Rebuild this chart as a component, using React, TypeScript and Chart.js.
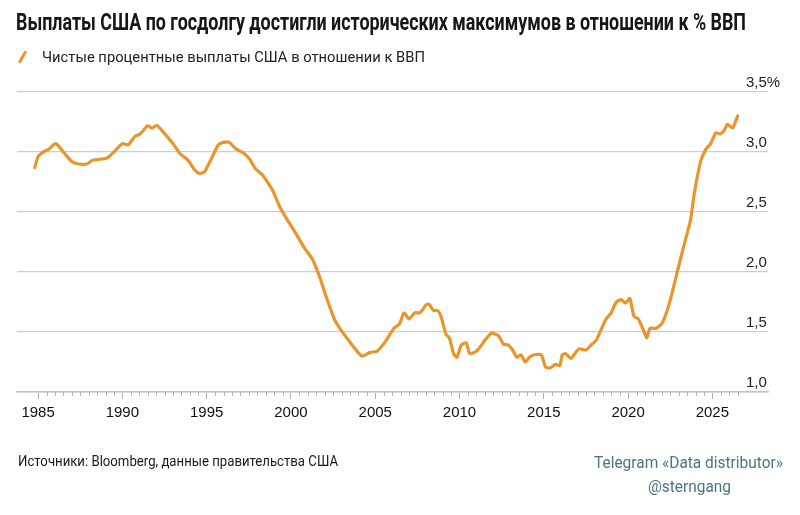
import React, { useEffect, useLayoutEffect, useRef } from "react";
import { Chart, registerables } from "chart.js";

Chart.register(...registerables);

// ---------- texts ----------
const TITLE = "Выплаты США по госдолгу достигли исторических максимумов в отношении к % ВВП";
const SERIES_LABEL = "Чистые процентные выплаты США в отношении к ВВП";
const SOURCE = "Источники: Bloomberg, данные правительства США";
const CREDIT_1 = "Telegram «Data distributor»";
const CREDIT_2 = "@sterngang";

// ---------- data ----------
const years = [
  1984.8, 1985.0, 1985.3, 1985.6, 1986.05, 1986.5, 1987.0, 1987.4, 1987.9, 1988.2,
  1988.7, 1989.1, 1989.5, 1990.0, 1990.35, 1990.75, 1991.05, 1991.5, 1991.75, 1992.05,
  1992.4, 1993.0, 1993.4, 1993.9, 1994.3, 1994.6, 1994.9, 1995.3, 1995.7, 1996.0,
  1996.35, 1996.7, 1997.2, 1997.55, 1997.9, 1998.3, 1998.65, 1998.95, 1999.35, 1999.85,
  2000.3, 2000.8, 2001.3, 2001.7, 2002.1, 2002.6, 2003.1, 2003.7, 2004.2, 2004.7,
  2005.1, 2005.6, 2006.1, 2006.45, 2006.7, 2007.0, 2007.35, 2007.65, 2008.05, 2008.2,
  2008.45, 2008.7, 2008.9, 2009.2, 2009.4, 2009.65, 2009.85, 2010.1, 2010.4, 2010.6,
  2011.0, 2011.3, 2011.5, 2011.9, 2012.3, 2012.6, 2012.9, 2013.15, 2013.4, 2013.65,
  2013.9, 2014.15, 2014.45, 2014.85, 2015.1, 2015.35, 2015.7, 2015.95, 2016.1, 2016.3,
  2016.6, 2016.9, 2017.1, 2017.5, 2017.8, 2018.1, 2018.4, 2018.7, 2019.0, 2019.3,
  2019.6, 2019.85, 2020.1, 2020.35, 2020.6, 2020.9, 2021.1, 2021.3, 2021.65, 2022.0,
  2022.3, 2022.6, 2022.9, 2023.2, 2023.5, 2023.7, 2023.9, 2024.1, 2024.3, 2024.6,
  2024.9, 2025.2, 2025.45, 2025.7, 2025.9, 2026.2, 2026.5,
];
const values = [
  2.87, 2.96, 3.0, 3.02, 3.07, 3.0, 2.92, 2.9, 2.9, 2.93,
  2.94, 2.95, 3.0, 3.07, 3.06, 3.13, 3.15, 3.22, 3.2, 3.22,
  3.17, 3.07, 2.99, 2.93, 2.85, 2.82, 2.84, 2.95, 3.06, 3.08,
  3.08, 3.03, 2.99, 2.94, 2.86, 2.81, 2.74, 2.67, 2.54, 2.42,
  2.32, 2.2, 2.1, 1.96, 1.79, 1.6, 1.49, 1.38, 1.3, 1.33,
  1.34, 1.42, 1.53, 1.57, 1.66, 1.61, 1.66, 1.66, 1.73, 1.73,
  1.68, 1.68, 1.63, 1.48, 1.45, 1.32, 1.29, 1.39, 1.41, 1.32,
  1.34, 1.39, 1.43, 1.49, 1.47, 1.4, 1.39, 1.35, 1.29, 1.31,
  1.25, 1.29, 1.31, 1.31, 1.21, 1.2, 1.23, 1.22, 1.31, 1.32,
  1.28, 1.33, 1.36, 1.35, 1.39, 1.43, 1.52, 1.61, 1.66, 1.75,
  1.77, 1.74, 1.78, 1.63, 1.61, 1.52, 1.45, 1.53, 1.53, 1.57,
  1.67, 1.82, 1.99, 2.16, 2.32, 2.43, 2.63, 2.79, 2.92, 3.02,
  3.07, 3.16, 3.15, 3.18, 3.23, 3.2, 3.3,
];
const yTicks = [1.0, 1.5, 2.0, 2.5, 3.0, 3.5];
const xLabelYears = [1985, 1990, 1995, 2000, 2005, 2010, 2015, 2020, 2025];
const X_MIN = 1983.75;
const X_MAX = 2028.3;
const MINOR_FROM = 1985;
const MINOR_TO = 2026.5;
const MINOR_STEP = 0.5;

const LINE_COLOR = "#E8962C";
const AXIS_FONT = '"Liberation Sans", Arial, sans-serif';

function FitText(props: {
  text: string;
  left: number;
  top: number;
  width: number;
  size: number;
  weight?: number;
  color?: string;
  family?: string;
}) {
  const ref = useRef<HTMLSpanElement>(null);
  useLayoutEffect(() => {
    const el = ref.current;
    if (!el) return;
    el.style.transform = "none";
    const w = el.getBoundingClientRect().width;
    if (w > 0) el.style.transform = `scaleX(${props.width / w})`;
  }, [props.text, props.width, props.size]);
  return (
    <span
      ref={ref}
      style={{
        position: "absolute",
        left: props.left,
        top: props.top,
        whiteSpace: "nowrap",
        transformOrigin: "0 0",
        fontFamily: props.family || "Roboto, 'Noto Sans', sans-serif",
        fontSize: props.size,
        fontWeight: props.weight || 400,
        color: props.color || "#1a1a1a",
        lineHeight: 1,
        display: "inline-block",
      }}
    >
      {props.text}
    </span>
  );
}

const fmt = (v: number) => v.toFixed(1).replace(".", ",");

export default function App() {
  const canvasRef = useRef<HTMLCanvasElement>(null);

  useEffect(() => {
    document.body.style.margin = "0";
    const canvas = canvasRef.current;
    if (!canvas) return;

    const minorTicks = {
      id: "minorTicks",
      afterDraw(chart: any) {
        const xs = chart.scales.x;
        const ctx = chart.ctx;
        ctx.save();
        ctx.strokeStyle = "#b8b8b8";
        ctx.lineWidth = 1;
        for (let v = MINOR_FROM; v <= MINOR_TO + 1e-9; v += MINOR_STEP) {
          if (xLabelYears.includes(v)) continue;
          const x = Math.round(xs.getPixelForValue(v)) + 0.5;
          ctx.beginPath();
          ctx.moveTo(x, xs.top);
          ctx.lineTo(x, xs.top + 4);
          ctx.stroke();
        }
        ctx.restore();
      },
    };

    const yLabels = {
      id: "yLabels",
      afterDraw(chart: any) {
        const ys = chart.scales.y;
        const ctx = chart.ctx;
        ctx.save();
        ctx.font = `15px ${AXIS_FONT}`;
        ctx.fillStyle = "#1e1e1e";
        ctx.textAlign = "left";
        ctx.textBaseline = "alphabetic";
        ys.ticks.forEach((t: any) => {
          const y = ys.getPixelForValue(t.value);
          const txt = fmt(t.value) + (t.value === yTicks[yTicks.length - 1] ? "%" : "");
          ctx.fillText(txt, chart.chartArea.right - 22, y - 5.5);
        });
        ctx.restore();
      },
    };

    const chart = new Chart(canvas, {
      type: "line",
      data: {
        datasets: [
          {
            label: SERIES_LABEL,
            data: years.map((x, i) => ({ x, y: values[i] })),
            borderColor: LINE_COLOR,
            backgroundColor: LINE_COLOR,
            borderWidth: 3.2,
            pointRadius: 0,
            tension: 0.2,
            fill: false,
            borderCapStyle: "round",
            borderJoinStyle: "round",
          },
        ],
      },
      options: {
        animation: false,
        responsive: false,
        maintainAspectRatio: false,
        layout: { padding: { top: 92, left: 17, right: 32, bottom: 93 } },
        plugins: {
          legend: { display: false },
          title: { display: false },
          tooltip: { enabled: false },
        },
        scales: {
          x: {
            type: "linear",
            min: X_MIN,
            max: X_MAX,
            afterBuildTicks: (s: any) => {
              s.ticks = xLabelYears.map((v) => ({ value: v }));
            },
            afterFit: (s: any) => {
              s.height = 30;
            },
            grid: {
              display: true,
              drawOnChartArea: false,
              drawTicks: true,
              tickLength: 7,
              tickColor: "#b0b0b0",
              tickWidth: 1,
            },
            border: { display: true, color: "#c4c4c4", width: 1.5 },
            ticks: {
              autoSkip: false,
              maxRotation: 0,
              padding: 5,
              color: "#111",
              font: { family: AXIS_FONT, size: 15 },
              callback: (v: any) => String(v),
            },
          },
          y: {
            type: "linear",
            position: "right",
            min: 1,
            max: 3.5,
            afterBuildTicks: (s: any) => {
              s.ticks = yTicks.map((v) => ({ value: v }));
            },
            grid: { color: "#cdcdcd", lineWidth: 1.2, drawTicks: false },
            border: { display: false },
            ticks: { display: false },
          },
        },
      },
      plugins: [minorTicks, yLabels],
    } as any);

    return () => chart.destroy();
  }, []);

  return (
    <div style={{ position: "relative", width: 800, height: 515, background: "#fff", overflow: "hidden" }}>
      <canvas ref={canvasRef} width={800} height={515} style={{ position: "absolute", left: 0, top: 0, width: 800, height: 515 }} />
      <FitText text={TITLE} left={16} top={11} width={730} size={23} weight={700} color="#161616" />
      <div
        style={{
          position: "absolute",
          left: 21,
          top: 50,
          width: 3,
          height: 14,
          background: LINE_COLOR,
          borderRadius: 2,
          transform: "rotate(30deg)",
        }}
      />
      <FitText text={SERIES_LABEL} left={42} top={50} width={383} size={15} color="#222" />
      <FitText text={SOURCE} left={18} top={454} width={320} size={14} color="#1a1a1a" />
      <FitText text={CREDIT_1} left={594} top={454} width={189} size={17} color="#4d7383" />
      <FitText text={CREDIT_2} left={648} top={478} width={83} size={17} color="#4d7383" />
    </div>
  );
}
